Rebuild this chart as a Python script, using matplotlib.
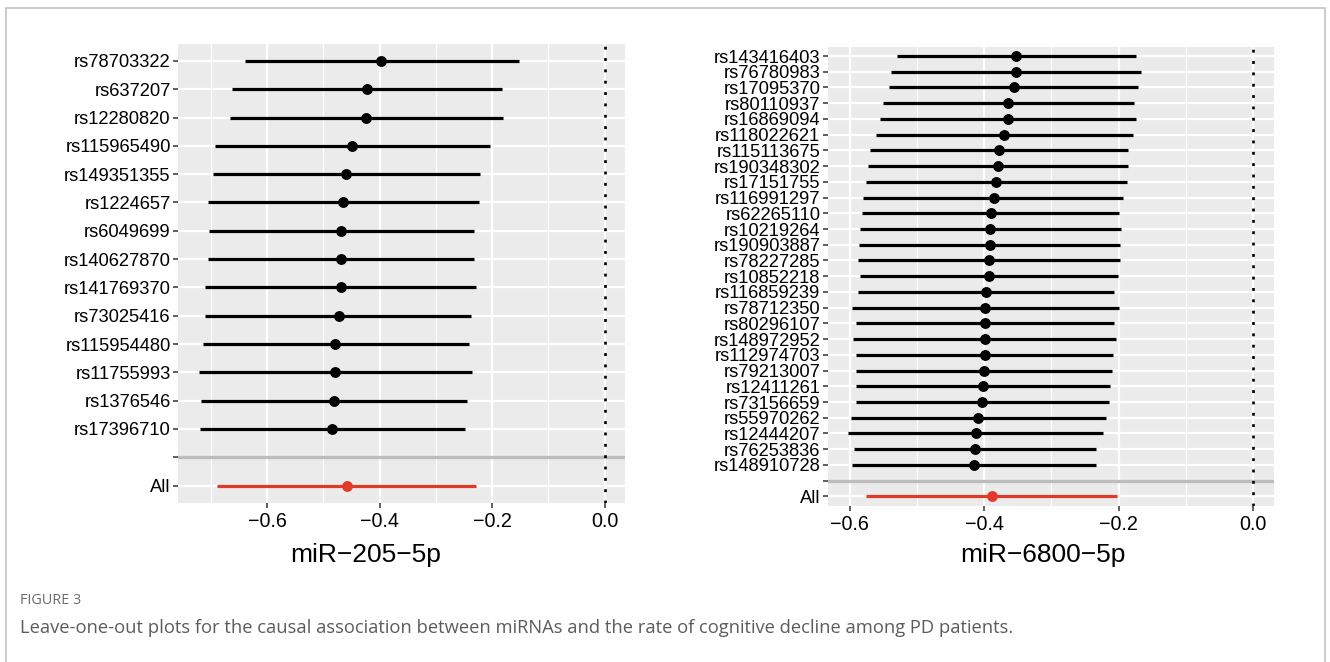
import matplotlib
matplotlib.use('Agg')
import matplotlib.pyplot as plt
from matplotlib.patches import Rectangle
from matplotlib.ticker import MultipleLocator

# ---- miR-205-5p leave-one-out estimates ----
snps_205 = ['rs78703322', 'rs637207', 'rs12280820', 'rs115965490', 'rs149351355',
            'rs1224657', 'rs6049699', 'rs140627870', 'rs141769370', 'rs73025416',
            'rs115954480', 'rs11755993', 'rs1376546', 'rs17396710']
beta_205 = [-0.397, -0.422, -0.424, -0.449, -0.460, -0.465, -0.468, -0.469,
            -0.469, -0.473, -0.479, -0.479, -0.482, -0.484]
lo_205 = [-0.640, -0.662, -0.667, -0.693, -0.697, -0.705, -0.703, -0.705,
          -0.710, -0.710, -0.715, -0.722, -0.718, -0.719]
hi_205 = [-0.153, -0.182, -0.181, -0.204, -0.222, -0.224, -0.232, -0.232,
          -0.229, -0.238, -0.242, -0.236, -0.245, -0.248]
all_205 = [-0.459, -0.689, -0.229]  # beta, lower, upper

# ---- miR-6800-5p leave-one-out estimates ----
snps_6800 = ['rs143416403', 'rs76780983', 'rs17095370', 'rs80110937', 'rs16869094',
             'rs118022621', 'rs115113675', 'rs190348302', 'rs17151755', 'rs116991297',
             'rs62265110', 'rs10219264', 'rs190903887', 'rs78227285', 'rs10852218',
             'rs116859239', 'rs78712350', 'rs80296107', 'rs148972952', 'rs112974703',
             'rs79213007', 'rs12411261', 'rs73156659', 'rs55970262', 'rs12444207',
             'rs76253836', 'rs148910728']
beta_6800 = [-0.352, -0.353, -0.356, -0.364, -0.365, -0.370, -0.378, -0.380, -0.382,
             -0.386, -0.390, -0.391, -0.392, -0.393, -0.393, -0.397, -0.398, -0.399,
             -0.399, -0.399, -0.400, -0.402, -0.403, -0.409, -0.412, -0.413, -0.415]
lo_6800 = [-0.529, -0.538, -0.541, -0.550, -0.554, -0.561, -0.569, -0.573, -0.576,
           -0.580, -0.582, -0.584, -0.586, -0.588, -0.585, -0.588, -0.597, -0.590,
           -0.595, -0.590, -0.590, -0.591, -0.590, -0.598, -0.602, -0.593, -0.596]
hi_6800 = [-0.175, -0.167, -0.171, -0.178, -0.175, -0.179, -0.186, -0.187, -0.188,
           -0.194, -0.199, -0.197, -0.198, -0.198, -0.201, -0.207, -0.199, -0.207,
           -0.204, -0.209, -0.210, -0.213, -0.215, -0.219, -0.223, -0.234, -0.234]
all_6800 = [-0.389, -0.575, -0.203]

plt.rcParams['font.family'] = ['Liberation Sans', 'DejaVu Sans']

W, H = 1330, 662
fig = plt.figure(figsize=(W / 100, H / 100), dpi=100)

RED = '#e23a28'


def draw_panel(rect, snps, beta, lo, hi, overall, title, title_x, title_y):
    ax = fig.add_axes(rect)
    n = len(snps)
    total = n + 2
    ys = [total - 1 - i for i in range(n)]
    labels = snps + ['', 'All']

    ax.set_facecolor('#ebebeb')
    for s in ax.spines.values():
        s.set_visible(False)
    ax.set_axisbelow(True)

    ax.axhline(1, color='#bdbdbd', lw=2.4, zorder=2)
    ax.axvline(0, color='black', lw=1.9, ls=(0, (1.1, 3.2)), zorder=2)

    ax.hlines(ys, lo, hi, color='black', lw=2.3, zorder=3)
    ax.plot(beta, ys, 'o', color='black', ms=6.8, zorder=4)
    ax.hlines([0], [overall[1]], [overall[2]], color=RED, lw=2.3, zorder=3)
    ax.plot([overall[0]], [0], 'o', color=RED, ms=6.8, zorder=4)

    # ggplot-like 5% expansion of the continuous axis
    xmin = min(lo + [overall[1], 0])
    xmax = max(hi + [overall[2], 0])
    pad = 0.05 * (xmax - xmin)
    ax.set_xlim(xmin - pad, xmax + pad)
    ax.set_ylim(-0.6, total - 1 + 0.6)

    ax.xaxis.set_major_locator(MultipleLocator(0.2))
    ax.xaxis.set_minor_locator(MultipleLocator(0.1))
    ax.set_yticks(list(range(total - 1, -1, -1)))
    ax.set_yticklabels(labels)

    ax.grid(which='major', color='white', lw=1.6)
    ax.grid(which='minor', axis='x', color='white', lw=0.9)

    ax.tick_params(axis='both', which='major', length=3.5, width=1.1,
                   color='#333333', labelcolor='black', pad=2)
    ax.tick_params(axis='y', labelsize=13.2)
    ax.tick_params(axis='x', labelsize=14.2, pad=3)
    ax.tick_params(which='minor', length=0)

    ax.text(title_x, title_y, title, transform=ax.transAxes, ha='center',
            va='baseline', fontsize=19)
    return ax


draw_panel([178.3 / W, (H - 502.5) / H, 446.7 / W, 458.5 / H],
           snps_205, beta_205, lo_205, hi_205, all_205,
           'miR\u2212205\u22125p', 0.42, -0.130)
draw_panel([827.9 / W, (H - 505.8) / H, 445.8 / W, 459.2 / H],
           snps_6800, beta_6800, lo_6800, hi_6800, all_6800,
           'miR\u22126800\u22125p', 0.4825, -0.122)

# outer frame of the figure box
fig.patches.append(Rectangle((6 / W, -0.02), (1325 - 6) / W, (H - 8) / H + 0.02,
                             transform=fig.transFigure, fill=False,
                             edgecolor='#c4c4c4', lw=1.2, clip_on=False))

fig.text(20 / W, 1 - 601 / H, 'FIGURE 3', fontsize=10.4, color='#6b6b6b',
         family='Open Sans', va='center', ha='left')
cap = fig.text(20 / W, 1 - 628 / H,
               'Leave-one-out plots for the causal association between miRNAs and '
               'the rate of cognitive decline among PD patients.',
               fontsize=12.5, color='#5c5c5c', family='Open Sans', va='center', ha='left')

# fit caption width to the reference (~998 px)
renderer = fig.canvas.get_renderer()
bb = cap.get_window_extent(renderer)
cap.set_fontsize(12.5 * 998 / bb.width)

fig.savefig('out.png', dpi=100)
